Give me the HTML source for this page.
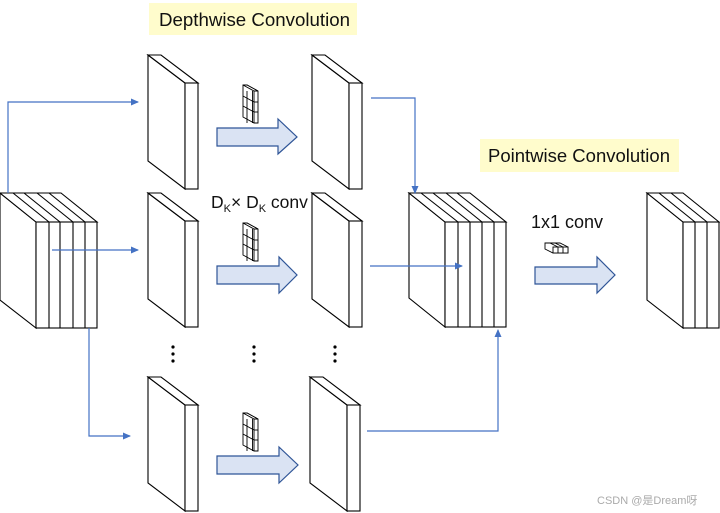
<!DOCTYPE html>
<html><head><meta charset="utf-8"><style>
html,body{margin:0;padding:0;background:#fff;}
svg{display:block;font-family:"Liberation Sans",sans-serif;}
</style></head><body>
<svg width="720" height="513" viewBox="0 0 720 513" xmlns="http://www.w3.org/2000/svg">
<defs>
<marker id="ah" markerWidth="8" markerHeight="8" refX="7" refY="4" orient="auto" markerUnits="userSpaceOnUse">
<path d="M0,0.5 L8,4 L0,7.5 Z" fill="#4472C4"/>
</marker>
<g id="plate" stroke="#000" stroke-width="1.1" fill="#fff" stroke-linejoin="miter">
<polygon points="0,0 37,28 37,134 0,106"/>
<polygon points="0,0 13,0 50,28 37,28"/>
<rect x="37" y="28" width="13" height="106"/>
</g>
<g id="kern" stroke="#000" stroke-width="0.9" fill="#fff">
<polygon points="0,0 4,0 15,6 15,38 11,38 0,32"/>
<polygon points="0,0 4,0 15,6 11,6"/>
<line x1="4" y1="6" x2="4" y2="38"/><line x1="9.5" y1="6" x2="9.5" y2="38"/>
<line x1="0" y1="11" x2="11" y2="17"/><line x1="0" y1="21" x2="11" y2="27"/>
<line x1="11" y1="17" x2="15" y2="17"/><line x1="11" y1="27" x2="15" y2="27"/>
<line x1="11" y1="6" x2="11" y2="38"/>
</g>
</defs>

<rect x="149" y="3" width="208" height="32" fill="#FFFCCC"/>
<text x="159" y="26" font-size="18" textLength="191" lengthAdjust="spacingAndGlyphs" fill="#111">Depthwise Convolution</text>
<rect x="480" y="139" width="199" height="33" fill="#FFFCCC"/>
<text x="488" y="162" font-size="18" textLength="182" lengthAdjust="spacingAndGlyphs" fill="#111">Pointwise Convolution</text>

<g stroke="#000" stroke-width="1.1" fill="#fff">
<polygon points="0,193 36,222 36,328 0,300"/>
<polygon points="0,193 61,193 97,222 36,222"/>
<line x1="13" y1="193" x2="49" y2="222"/><line x1="24" y1="193" x2="60" y2="222"/>
<line x1="37" y1="193" x2="73" y2="222"/><line x1="49" y1="193" x2="85" y2="222"/>
<rect x="36" y="222" width="61" height="106"/>
<line x1="49" y1="222" x2="49" y2="328"/><line x1="60" y1="222" x2="60" y2="328"/>
<line x1="73" y1="222" x2="73" y2="328"/><line x1="85" y1="222" x2="85" y2="328"/>
</g>
<g stroke="#000" stroke-width="1.1" fill="#fff">
<polygon points="409,193 445,222 445,327 409,298"/>
<polygon points="409,193 470,193 506,222 445,222"/>
<line x1="421" y1="193" x2="458" y2="222"/><line x1="433" y1="193" x2="470" y2="222"/>
<line x1="446" y1="193" x2="482" y2="222"/><line x1="457" y1="193" x2="494" y2="222"/>
<rect x="445" y="222" width="61" height="105"/>
<line x1="458" y1="222" x2="458" y2="327"/><line x1="470" y1="222" x2="470" y2="327"/>
<line x1="482" y1="222" x2="482" y2="327"/><line x1="494" y1="222" x2="494" y2="327"/>
</g>
<g stroke="#000" stroke-width="1.1" fill="#fff">
<polygon points="647,193 683,222 683,328 647,300"/>
<polygon points="647,193 683,193 719,222 683,222"/>
<line x1="659" y1="193" x2="695" y2="222"/><line x1="671" y1="193" x2="707" y2="222"/>
<rect x="683" y="222" width="36" height="106"/>
<line x1="695" y1="222" x2="695" y2="328"/><line x1="707" y1="222" x2="707" y2="328"/>
</g>

<use href="#plate" x="148" y="55"/>
<use href="#plate" x="312" y="55"/>
<use href="#plate" x="148" y="193"/>
<use href="#plate" x="312" y="193"/>
<use href="#plate" x="148" y="377"/>
<use href="#plate" x="310" y="377"/>

<use href="#kern" x="243" y="85"/>
<use href="#kern" x="243" y="223"/>
<use href="#kern" x="243" y="413"/>
<g stroke="#000" stroke-width="0.9" fill="#fff">
<polygon points="545,243 560,243 568,247 568,253 553,253 545,249"/>
<rect x="553" y="247" width="15" height="6"/>
<line x1="558" y1="247" x2="558" y2="253"/><line x1="563" y1="247" x2="563" y2="253"/>
<line x1="550" y1="243" x2="558" y2="247"/><line x1="555" y1="243" x2="563" y2="247"/>
</g>

<g fill="#DAE3F3" stroke="#2F5597" stroke-width="1.2">
<polygon points="217,128 278,128 278,119 297,137 278,154 278,146 217,146"/>
<polygon points="217,266 279,266 279,257 297,275 279,293 279,284 217,284"/>
<polygon points="217,456 279,456 279,447 298,465 279,483 279,474 217,474"/>
<polygon points="535,267 597,267 597,257 615,275 597,293 597,284 535,284"/>
</g>

<g stroke="#4472C4" stroke-width="1.2" fill="none" marker-end="url(#ah)">
<polyline points="8,193 8,102 138,102"/>
<polyline points="52,250 138,250"/>
<polyline points="89,328 89,436 130,436"/>
<polyline points="371,98 415,98 415,193"/>
<polyline points="370,266 462,266"/>
<polyline points="367,431 498,431 498,330"/>
</g>

<g fill="#000">
<circle cx="173" cy="347" r="1.6"/><circle cx="173" cy="354" r="1.6"/><circle cx="173" cy="361" r="1.6"/>
<circle cx="254" cy="347" r="1.6"/><circle cx="254" cy="354" r="1.6"/><circle cx="254" cy="361" r="1.6"/>
<circle cx="335" cy="347" r="1.6"/><circle cx="335" cy="354" r="1.6"/><circle cx="335" cy="361" r="1.6"/>
</g>

<text x="211" y="208" font-size="17.5" fill="#111">D<tspan font-size="11" dy="4">K</tspan><tspan dy="-4">× D</tspan><tspan font-size="11" dy="4">K</tspan><tspan dy="-4"> conv</tspan></text>
<text x="531" y="228" font-size="18" fill="#111">1x1 conv</text>

<text x="597" y="504" font-size="11" fill="#aaa" font-family="'Liberation Sans','Noto Sans CJK SC',sans-serif">CSDN @是Dream呀</text>
</svg>
</body></html>
